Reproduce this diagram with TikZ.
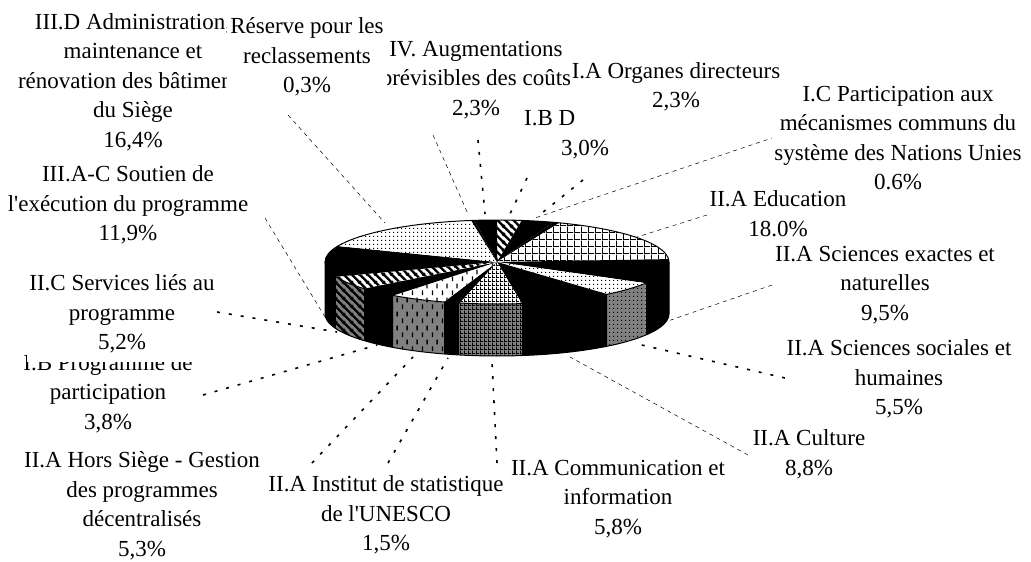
\documentclass[tikz,border=0pt]{standalone}
\usepackage{fontspec}
\setmainfont{Liberation Serif}
\usetikzlibrary{
  patterns
}

% fill patterns of the slices (1pt = 1px)
\pgfdeclarepatternformonly{edugrid}{\pgfqpoint{0pt}{0pt}}{\pgfqpoint{7pt}{7pt}}{\pgfqpoint{7pt}{7pt}}{%
  \pgfsetlinewidth{0.9pt}%
  \pgfpathmoveto{\pgfqpoint{0.5pt}{0pt}}\pgfpathlineto{\pgfqpoint{0.5pt}{7pt}}%
  \pgfpathmoveto{\pgfqpoint{0pt}{0.5pt}}\pgfpathlineto{\pgfqpoint{7pt}{0.5pt}}%
  \pgfusepath{stroke}}
\pgfdeclarepatternformonly{finegrid}{\pgfqpoint{0pt}{0pt}}{\pgfqpoint{4pt}{4pt}}{\pgfqpoint{4pt}{4pt}}{%
  \pgfsetlinewidth{0.9pt}%
  \pgfpathmoveto{\pgfqpoint{0.5pt}{0pt}}\pgfpathlineto{\pgfqpoint{0.5pt}{4pt}}%
  \pgfpathmoveto{\pgfqpoint{0pt}{0.5pt}}\pgfpathlineto{\pgfqpoint{4pt}{0.5pt}}%
  \pgfusepath{stroke}}
\pgfdeclarepatternformonly{widestripes}{\pgfqpoint{0pt}{0pt}}{\pgfqpoint{8pt}{8pt}}{\pgfqpoint{8pt}{8pt}}{%
  \pgfsetlinewidth{2.6pt}%
  \pgfpathmoveto{\pgfqpoint{-1pt}{9pt}}\pgfpathlineto{\pgfqpoint{9pt}{-1pt}}%
  \pgfpathmoveto{\pgfqpoint{-1pt}{1pt}}\pgfpathlineto{\pgfqpoint{1pt}{-1pt}}%
  \pgfpathmoveto{\pgfqpoint{7pt}{9pt}}\pgfpathlineto{\pgfqpoint{9pt}{7pt}}%
  \pgfusepath{stroke}}
\pgfdeclarepatternformonly{finedots}{\pgfqpoint{0pt}{0pt}}{\pgfqpoint{4pt}{4pt}}{\pgfqpoint{4pt}{4pt}}{%
  \pgfpathrectangle{\pgfqpoint{1.5pt}{1.5pt}}{\pgfqpoint{1pt}{1pt}}%
  \pgfusepath{fill}}
\pgfdeclarepatternformonly{shortdashes}{\pgfqpoint{0pt}{0pt}}{\pgfqpoint{10pt}{14pt}}{\pgfqpoint{10pt}{14pt}}{%
  \pgfpathrectangle{\pgfqpoint{2pt}{1pt}}{\pgfqpoint{1.4pt}{5pt}}%
  \pgfpathrectangle{\pgfqpoint{7pt}{8pt}}{\pgfqpoint{1.4pt}{5pt}}%
  \pgfusepath{fill}}

\tikzset{
  lbl/.style={align=center, inner sep=2pt, font=\fontsize{23}{29.5}\selectfont},
  lblbox/.style={lbl, fill=white},
  leader thin/.style={line width=0.5pt, dash pattern=on 4pt off 4pt},
  leader thick/.style={line width=1.6pt, dash pattern=on 3pt off 9pt},
  top solid/.style={fill=black},
  side solid/.style={fill=black},
  top stripes/.style={preaction={fill=white}, pattern=widestripes},
  side stripes/.style={preaction={fill=gray}, pattern=widestripes},
  top grid/.style={preaction={fill=white}, pattern=edugrid},
  side grid/.style={preaction={fill=gray}, pattern=edugrid},
  top dots/.style={preaction={fill=white}, pattern=finedots},
  side dots/.style={preaction={fill=gray}, pattern=finedots},
  top fgrid/.style={preaction={fill=white}, pattern=finegrid},
  side fgrid/.style={preaction={fill=gray}, pattern=finegrid},
  top vdash/.style={preaction={fill=white}, pattern=shortdashes},
  side vdash/.style={preaction={fill=gray}, pattern=shortdashes},
}

\begin{document}
\begin{tikzpicture}[x=1pt, y=-1pt]
\useasboundingbox (0,0) rectangle (1031,562);

% leader lines, label end to pie end
\foreach \name/\px/\py/\lx/\ly/\how in {
  iiid/385/223/288/115/thin,
  reserve/468/214/433/135/thin,
  iv/485/214/478/140/thick,
  ia/510/214/527/178/thick,
  ibd/537/217/583/180/thick,
  ic/535/218/775/137/thin,
  edu/637/237/707/215/thin,
  sciex/665/322/772/285/thin,
  scisoc/633/343/785/378/thick,
  culture/570/357/748/455/thin,
  comm/492/362/497/463/thick,
  inst/448/358/388/463/thick,
  hors/413/357/312/463/thick,
  progpart/377/345/203/395/thick,
  iic/337/332/217/312/thick,
  iiiac/325/317/265/218/thin}
{
  \coordinate (\name-pie) at (\px,\py);
  \coordinate (\name-end) at (\lx,\ly);
  \draw[leader \how] (\name-end) -- (\name-pie);
}

% pie: angles clockwise from 12 o'clock
\foreach \a/\b/\kind in {
  0/8.28/stripes, 8.28/19.08/solid, 19.08/21.24/solid,
  21.24/86.04/grid, 86.04/120.24/solid, 120.24/140.04/dots,
  140.04/171.72/solid, 171.72/192.6/fgrid, 192.6/198/solid,
  198/217.08/vdash, 217.08/230.76/solid, 230.76/249.48/stripes,
  249.48/292.32/solid, 292.32/351.36/dots, 351.36/352.44/solid,
  352.44/360/solid}
{
  \pgfmathsetmacro{\sa}{max(\a,90)}
  \pgfmathsetmacro{\sb}{min(\b,270)}
  \pgfmathtruncatemacro{\showside}{\sb>\sa}
  \ifnum\showside=1
    \fill[side \kind] plot[domain=\sa:\sb, samples=20] ({497+172*sin(\x)},{262-42*cos(\x)})
      -- plot[domain=\sb:\sa, samples=20] ({497+172*sin(\x)},{314-42*cos(\x)}) -- cycle;
  \fi
  \fill[top \kind] (497,262) -- plot[domain=\a:\b, samples=25] ({497+172*sin(\x)},{262-42*cos(\x)}) -- cycle;
}
\draw[line width=1pt] (497,262) ellipse [x radius=172pt, y radius=42pt];
\draw[line width=1pt] (669,262) -- plot[domain=90:270, samples=40] ({497+172*sin(\x)},{314-42*cos(\x)}) -- (325,262);

% labels
\node[lblbox] (iiid) at (133,82) {III.D Administration,\\maintenance et\\rénovation des bâtiments\\du Siège\\16,4\%};
\node[lblbox] (iv) at (476,80) {IV. Augmentations\\prévisibles des coûts\\2,3\%};
\node[lblbox, inner xsep=3pt] (reserve) at (307,57) {Réserve pour les\\reclassements\\0,3\%};
\node[lblbox] (ia) at (676,87) {I.A Organes directeurs\\2,3\%};
\node[lbl, anchor=west] (ibd) at (522,118) {I.B D};
\node[lbl] (ibdval) at (585,150) {3,0\%};
\node[lblbox] (ic) at (898,138) {I.C Participation aux\\mécanismes communs du\\système des Nations Unies\\0.6\%};
\node[lblbox] (edu) at (778,213.5) {II.A Education\\18.0\%};
\node[lblbox] (sciex) at (885,285) {II.A Sciences exactes et\\naturelles\\9,5\%};
\node[lblbox] (scisoc) at (899,379) {II.A Sciences sociales et\\humaines\\5,5\%};
\node[lblbox] (culture) at (809,454.5) {II.A Culture\\8,8\%};
\node[lblbox] (comm) at (618,499) {II.A Communication et\\information\\5,8\%};
\node[lblbox] (inst) at (386,515) {II.A Institut de statistique\\de l\textquotesingle UNESCO\\1,5\%};
\node[lbl, inner ysep=0pt] (hors) at (142,506) {II.A Hors Siège - Gestion\\des programmes\\décentralisés\\5,3\%};
\node[lblbox] (progpart) at (108,393.5) {I.B Programme de\\participation\\3,8\%};
\node[lblbox, inner ysep=9pt] (iic) at (122,314) {II.C Services liés au\\programme\\5,2\%};
\node[lblbox] (iiiac) at (128,205) {III.A-C Soutien de\\l\textquotesingle exécution du programme\\11,9\%};
\end{tikzpicture}
\end{document}
